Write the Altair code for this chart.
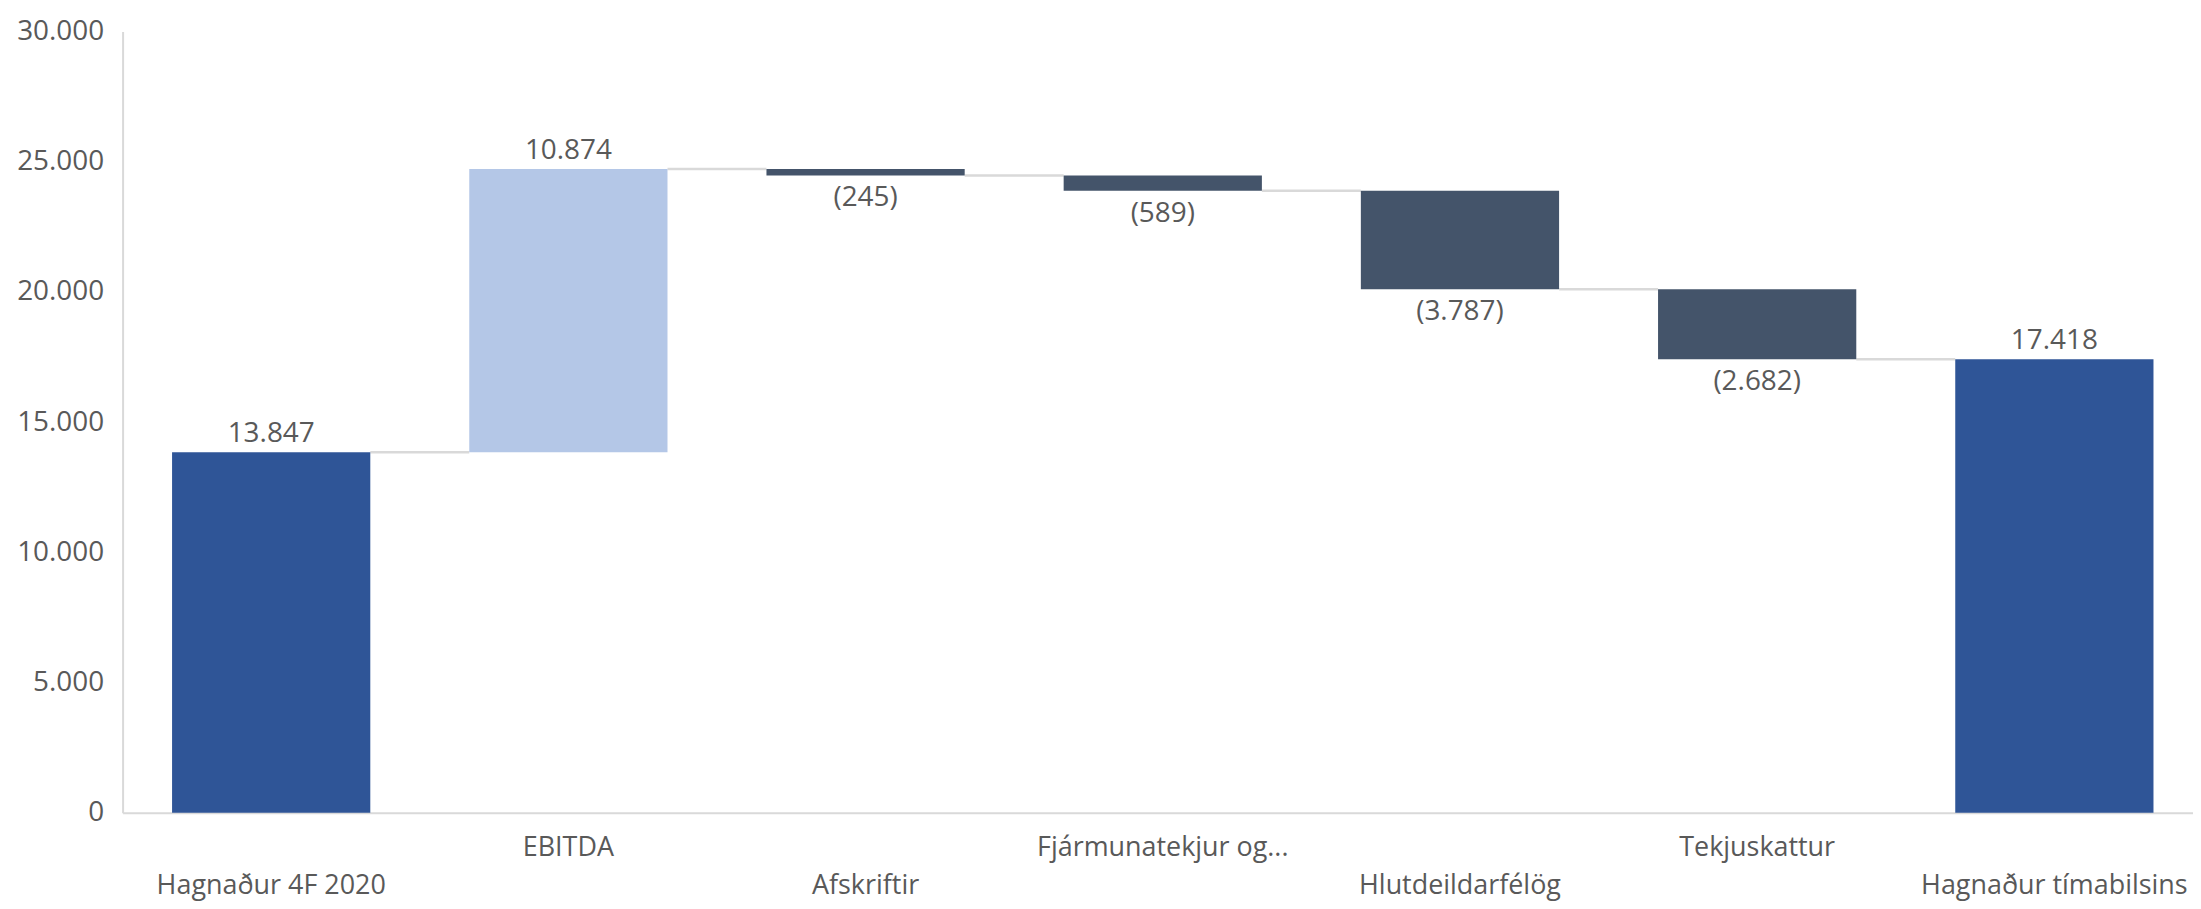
import altair as alt
import pandas as pd

categories = ["Hagnaður 4F 2020", "EBITDA", "Afskriftir", "Fjármunatekjur og...",
              "Hlutdeildarfélög", "Tekjuskattur", "Hagnaður tímabilsins"]
values = [13847, 10874, -245, -589, -3787, -2682, 17418]
kinds = ["total", "increase", "decrease", "decrease", "decrease", "decrease", "total"]
y_ticks = [0, 5000, 10000, 15000, 20000, 25000, 30000]
upper_row = ["EBITDA", "Fjármunatekjur og...", "Tekjuskattur"]

rows = []
running = 0
for i, (c, v, k) in enumerate(zip(categories, values, kinds)):
    if k == "total":
        start, end = 0, v
        running = v
    else:
        start = running
        end = running + v
        running = end
    txt = f"{abs(v):,}".replace(",", ".")
    if v < 0:
        txt = f"({txt})"
    nxt = categories[i + 1] if i + 1 < len(categories) else None
    rows.append(dict(cat=c, start=start, end=end, top=max(start, end),
                     bottom=min(start, end), kind=k, label=txt, next=nxt,
                     level=running, sign="pos" if v >= 0 else "neg"))
df = pd.DataFrame(rows)

FONT = "Open Sans"
TXT = "#595959"
GRAY = "#D9D9D9"

xscale = alt.Scale(domain=categories, range=[0, 2088], paddingInner=0.333, paddingOuter=0.1665)
yscale = alt.Scale(domain=[0, 30000], nice=False)

upper_js = "[" + ",".join("'" + u + "'" for u in upper_row) + "]"
x_axis = alt.Axis(title=None, labelAngle=0, ticks=False, domainColor=GRAY, domainWidth=2,
                  labelFont=FONT, labelFontSize=27, labelColor=TXT, labelPadding=22,
                  labelLineHeight=38, labelOverlap=False, labelLimit=600,
                  labelBaseline="top", labelAlign="center",
                  labelExpr=f"indexof({upper_js}, datum.label) >= 0 ? datum.label : ['', datum.label]")
y_axis = alt.Axis(title=None, values=y_ticks, ticks=False, grid=False, domainColor=GRAY,
                  domainWidth=2, labelFont=FONT, labelFontSize=28, labelColor=TXT,
                  labelPadding=19,
                  labelExpr="replace(format(datum.value, ','), ',', '.')")

base = alt.Chart(df)

bars = base.mark_bar().encode(
    x=alt.X("cat:N", scale=xscale, sort=categories, axis=x_axis),
    y=alt.Y("start:Q", scale=yscale, axis=y_axis),
    y2="end:Q",
    color=alt.Color("kind:N", scale=alt.Scale(domain=["total", "increase", "decrease"],
                                               range=["#2F5597", "#B4C7E7", "#44546A"]),
                    legend=None),
)

conn = base.transform_filter("datum.next != null").mark_rule(
    color=GRAY, strokeWidth=2.5).encode(
    x=alt.X("cat:N", bandPosition=1, scale=xscale, sort=categories),
    x2=alt.X2("next", bandPosition=0),
    y=alt.Y("level:Q", scale=yscale),
)

lab_pos = base.transform_filter("datum.sign == 'pos'").mark_text(
    font=FONT, fontSize=28, color=TXT, baseline="middle", dy=-18).encode(
    x=alt.X("cat:N", scale=xscale, sort=categories),
    y=alt.Y("top:Q", scale=yscale),
    text="label:N",
)
lab_neg = base.transform_filter("datum.sign == 'neg'").mark_text(
    font=FONT, fontSize=28, color=TXT, baseline="middle", dy=23).encode(
    x=alt.X("cat:N", scale=xscale, sort=categories),
    y=alt.Y("bottom:Q", scale=yscale),
    text="label:N",
)

chart = alt.layer(conn, bars, lab_pos, lab_neg).properties(
    width=2070, height=784,
    autosize=alt.AutoSizeParams(type="none"),
    padding={"left": 115, "top": 22, "right": 8, "bottom": 87},
    background="white",
).configure_view(stroke=None)

chart.save("out.html", embed_options={"renderer": "svg", "actions": False})
